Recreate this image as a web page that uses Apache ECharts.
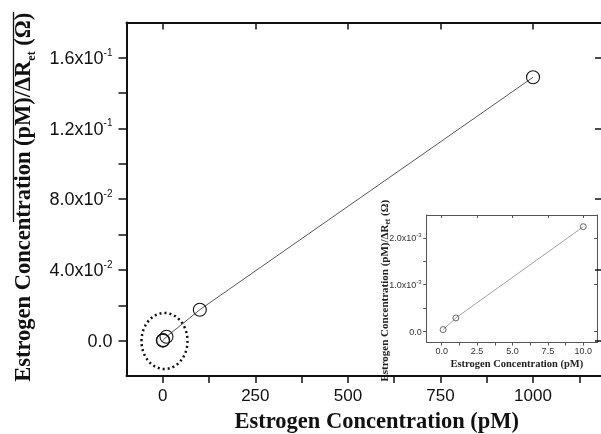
<!DOCTYPE html>
<html><head><meta charset="utf-8">
<script src="https://cdn.jsdelivr.net/npm/echarts@6/dist/echarts.min.js"></script>
<style>html,body{margin:0;padding:0;background:#fff}#c{width:601px;height:434px}</style>
</head><body><div id="c"></div>
<script>
// ---- data ----
const mainX = [0.1, 1, 10, 100, 1000];
const mainY = [0.00004, 0.00029, 0.0022, 0.0175, 0.149];
const insetX = [0.1, 1, 10];
const insetY = [0.00004, 0.00029, 0.00224];

const mainXTicks = [0, 250, 500, 750, 1000];
const mainXLabels = ['0', '250', '500', '750', '1000'];
const mainXMinor = [0, 125, 250, 375, 500, 625, 750, 875, 1000, 1125];
const mainYTicks = [0, 0.04, 0.08, 0.12, 0.16];
const mainYMinor = [0, 0.02, 0.04, 0.06, 0.08, 0.1, 0.12, 0.14, 0.16];
const mainYMant = ['0.0', '4.0x10', '8.0x10', '1.2x10', '1.6x10'];
const mainYExp = ['', '-2', '-2', '-1', '-1'];

const insetXTicks = [0, 2.5, 5, 7.5, 10];
const insetXLabels = ['0.0', '2.5', '5.0', '7.5', '10.0'];
const insetXMinor = [0, 1.25, 2.5, 3.75, 5, 6.25, 7.5, 8.75, 10];
const insetYTicks = [0, 0.001, 0.002];
const insetYMinor = [0, 0.0005, 0.001, 0.0015, 0.002];
const insetYMant = ['0.0', '1.0x10', '2.0x10'];
const insetYExp = ['', '-3', '-3'];

const xTitle = 'Estrogen Concentration (pM)';
const yTitleMain = 'Estrogen Concentration (pM)/ΔR';
const yTitleSub = 'et';
const yTitleEnd = ' (Ω)';

function idx(arr, v) { return arr.findIndex(t => Math.abs(t - v) < 1e-9); }
function sciFmt(ticks, mant, exp) {
  return function (v) {
    const i = idx(ticks, v);
    if (i < 0) return '';
    return exp[i] ? '{m|' + mant[i] + '}{e|' + exp[i] + '}' : '{m|' + mant[i] + '}';
  };
}
function plainFmt(ticks, labels) {
  return function (v) { const i = idx(ticks, v); return i < 0 ? '' : labels[i]; };
}

const chart = echarts.init(document.getElementById('c'), null, { renderer: 'canvas' });
const sans = 'Liberation Sans, Arial, sans-serif';
const serif = 'Liberation Serif, Times New Roman, serif';

const mainLine = { onZero: false, lineStyle: { color: '#111', width: 2 } };
const insetLine = { onZero: false, lineStyle: { color: '#555', width: 1 } };

chart.setOption({
  animation: false,
  backgroundColor: '#fff',
  grid: [
    { left: 126.5, top: 22.5, right: -2, bottom: 58, containLabel: false, outerBoundsMode: 'none' },
    { left: 426.7, top: 215, width: 170.3, height: 127.5, show: true, backgroundColor: '#fff', borderWidth: 0,
      containLabel: false, outerBoundsMode: 'none' }
  ],
  xAxis: [
    { type: 'value', gridIndex: 0, position: 'bottom', min: -98, max: 1189,
      axisLine: mainLine, splitLine: { show: false },
      axisTick: { customValues: mainXMinor, length: 7, inside: false, lineStyle: { color: '#111', width: 1.5 } },
      axisLabel: { customValues: mainXTicks, margin: 12, fontSize: 17, fontFamily: sans, color: '#111',
        formatter: plainFmt(mainXTicks, mainXLabels) },
      name: xTitle, nameLocation: 'middle', nameGap: 35,
      nameTextStyle: { fontFamily: serif, fontWeight: 'bold', fontSize: 22.5, color: '#111', padding: [0, 0, 0, 24] } },
    { type: 'value', gridIndex: 0, position: 'top', min: -98, max: 1189,
      axisLine: mainLine, splitLine: { show: false },
      axisTick: { customValues: mainXTicks, length: 7, inside: true, lineStyle: { color: '#111', width: 1.5 } },
      axisLabel: { show: false } },
    { type: 'value', gridIndex: 1, position: 'bottom', min: -1.06, max: 10.97,
      axisLine: insetLine, splitLine: { show: false },
      axisTick: { customValues: insetXMinor, length: 3, inside: false, lineStyle: { color: '#555', width: 1 } },
      axisLabel: { customValues: insetXTicks, margin: 5, fontSize: 9, fontFamily: sans, color: '#333',
        formatter: plainFmt(insetXTicks, insetXLabels) },
      name: xTitle, nameLocation: 'middle', nameGap: 16,
      nameTextStyle: { fontFamily: serif, fontWeight: 'bold', fontSize: 10.5, color: '#222', padding: [0, 0, 0, 10] } },
    { type: 'value', gridIndex: 1, position: 'top', min: -1.06, max: 10.97,
      axisLine: insetLine, splitLine: { show: false },
      axisTick: { customValues: insetXTicks, length: 3, inside: true, lineStyle: { color: '#555', width: 1 } },
      axisLabel: { show: false } }
  ],
  yAxis: [
    { type: 'value', gridIndex: 0, position: 'left', min: -0.02, max: 0.18,
      axisLine: mainLine, splitLine: { show: false },
      axisTick: { customValues: mainYMinor, length: 8, inside: false, lineStyle: { color: '#111', width: 1.5 } },
      axisLabel: { customValues: mainYTicks, margin: 14, fontFamily: sans, color: '#111',
        formatter: sciFmt(mainYTicks, mainYMant, mainYExp),
        rich: { m: { fontSize: 18, fontFamily: sans, color: '#111', lineHeight: 20, verticalAlign: 'bottom' },
                e: { fontSize: 10, fontFamily: sans, color: '#111', lineHeight: 20, verticalAlign: 'top' } } },
      name: '{t|' + yTitleMain + '}{s|' + yTitleSub + '}{t|' + yTitleEnd + '}',
      nameLocation: 'middle', nameGap: 89, nameRotate: 90,
      nameTextStyle: { padding: [0, 0, 0, 4], rich: {
        t: { fontFamily: serif, fontWeight: 'bold', fontSize: 22.5, color: '#111', lineHeight: 26, verticalAlign: 'middle' },
        s: { fontFamily: serif, fontWeight: 'bold', fontSize: 12, color: '#111', lineHeight: 26, verticalAlign: 'bottom' } } } },
    { type: 'value', gridIndex: 0, position: 'right', min: -0.02, max: 0.18,
      axisLine: { show: false, onZero: false }, splitLine: { show: false },
      axisTick: { customValues: mainYTicks, length: 8, inside: true, lineStyle: { color: '#111', width: 1.5 } },
      axisLabel: { show: false } },
    { type: 'value', gridIndex: 1, position: 'left', min: -0.000235, max: 0.00249,
      axisLine: insetLine, splitLine: { show: false },
      axisTick: { customValues: insetYMinor, length: 3.5, inside: false, lineStyle: { color: '#555', width: 1 } },
      axisLabel: { customValues: insetYTicks, margin: 5, fontFamily: sans, color: '#333',
        formatter: sciFmt(insetYTicks, insetYMant, insetYExp),
        rich: { m: { fontSize: 9, fontFamily: sans, color: '#333', lineHeight: 11, verticalAlign: 'bottom' },
                e: { fontSize: 6, fontFamily: sans, color: '#333', lineHeight: 11, verticalAlign: 'top' } } },
      name: '{t|' + yTitleMain + '}{s|' + yTitleSub + '}{t|' + yTitleEnd + '}',
      nameLocation: 'middle', nameGap: 35, nameRotate: 90, nameMoveOverlap: false,
      nameTextStyle: { padding: [0, 24, 0, 0], rich: {
        t: { fontFamily: serif, fontWeight: 'bold', fontSize: 11, color: '#222', lineHeight: 13, verticalAlign: 'middle' },
        s: { fontFamily: serif, fontWeight: 'bold', fontSize: 7.5, color: '#222', lineHeight: 13, verticalAlign: 'bottom' } } } },
    { type: 'value', gridIndex: 1, position: 'right', min: -0.000235, max: 0.00249,
      axisLine: insetLine, splitLine: { show: false },
      axisTick: { customValues: insetYTicks, length: 3, inside: true, lineStyle: { color: '#555', width: 1 } },
      axisLabel: { show: false } }
  ],
  series: [
    { type: 'line', xAxisIndex: 0, yAxisIndex: 0,
      data: mainX.map((x, i) => [x, mainY[i]]),
      symbol: 'circle', symbolSize: 13,
      lineStyle: { color: '#444', width: 0.9 },
      itemStyle: { color: 'rgba(0,0,0,0)', borderColor: '#111', borderWidth: 1.1 } },
    { type: 'line', xAxisIndex: 2, yAxisIndex: 2,
      data: insetX.map((x, i) => [x, insetY[i]]),
      symbol: 'circle', symbolSize: 6,
      lineStyle: { color: '#888', width: 0.8 },
      itemStyle: { color: 'rgba(0,0,0,0)', borderColor: '#444', borderWidth: 0.8 } }
  ],
  graphic: [
    { type: 'line', shape: { x1: 13.5, y1: 12, x2: 13.5, y2: 222 }, style: { stroke: '#111', lineWidth: 1.3 }, z: 10 },
    { type: 'ellipse', shape: { cx: 164.5, cy: 341, rx: 23, ry: 28 },
      style: { fill: 'none', stroke: '#111', lineWidth: 2.5, lineDash: [2, 3] }, z: 10 }
  ]
});
</script></body></html>
